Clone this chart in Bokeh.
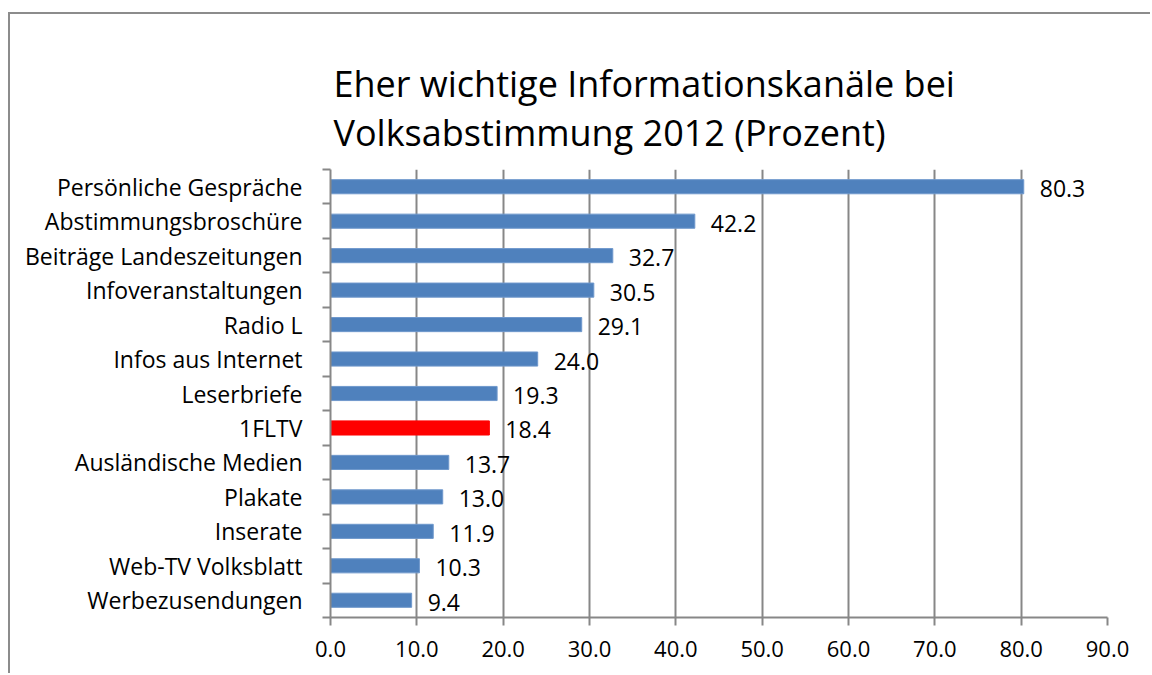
from bokeh.plotting import figure
from bokeh.models import ColumnDataSource, FixedTicker, LabelSet, NumeralTickFormatter, Title
from bokeh.core.properties import value
from bokeh.embed import file_html
from bokeh.resources import INLINE

title_lines = ["Eher wichtige Informationskanäle bei", "Volksabstimmung 2012 (Prozent)"]
categories = ["Persönliche Gespräche", "Abstimmungsbroschüre", "Beiträge Landeszeitungen",
              "Infoveranstaltungen", "Radio L", "Infos aus Internet", "Leserbriefe", "1FLTV",
              "Ausländische Medien", "Plakate", "Inserate", "Web-TV Volksblatt", "Werbezusendungen"]
values = [80.3, 42.2, 32.7, 30.5, 29.1, 24.0, 19.3, 18.4, 13.7, 13.0, 11.9, 10.3, 9.4]
highlight = "1FLTV"
x_ticks = [0, 10, 20, 30, 40, 50, 60, 70, 80, 90]

FONT = "Open Sans"
BLUE = "#4F81BD"
RED = "#FF0000"
GRAY = "#878787"

n = len(categories)
ypos = [n - 1 - i for i in range(n)]
colors = [RED if c == highlight else BLUE for c in categories]
lines = ["#FF0000" if c == highlight else "#6F98CC" for c in categories]
labels = ["%.1f" % v for v in values]

src = ColumnDataSource(dict(y=ypos, v=values, c=colors, lc=lines, lab=labels, cat=categories))

W, H = 1142, 661
FL, FT, FH = 320, 155, 448
p = figure(width=W, height=H, output_backend="svg", toolbar_location=None,
           x_range=(0, 90), y_range=(-0.5, n - 0.5),
           min_border_left=FL, min_border_right=45, min_border_top=FT,
           min_border_bottom=H - FT - FH)
p.outline_line_color = None
p.background_fill_color = "white"
p.border_fill_color = "white"

p.hbar(y="y", right="v", left=0, height=0.41, fill_color="c", line_color="lc", line_width=1, source=src)

ls = LabelSet(x="v", y="y", text="lab", source=src, x_offset=16, y_offset=-2,
              text_baseline="middle", text_align="left",
              text_font=value(FONT), text_font_size=value("23px"), text_color="black")
p.add_layout(ls)

# x axis
p.xaxis.ticker = FixedTicker(ticks=x_ticks)
p.xaxis.formatter = NumeralTickFormatter(format="0.0")
p.xaxis.axis_line_color = GRAY
p.xaxis.axis_line_width = 2
p.xaxis.major_tick_line_color = GRAY
p.xaxis.major_tick_line_width = 2
p.xaxis.major_tick_out = 8
p.xaxis.major_tick_in = 0
p.xaxis.minor_tick_line_color = None
p.xaxis.major_label_text_font = FONT
p.xaxis.major_label_text_font_size = "22px"
p.xaxis.major_label_text_color = "black"
p.xaxis.major_label_standoff = 15

p.xgrid.ticker = FixedTicker(ticks=x_ticks)
p.xgrid.grid_line_color = GRAY
p.xgrid.grid_line_width = 2
p.ygrid.grid_line_color = None

# y axis
p.yaxis.ticker = FixedTicker(ticks=ypos, minor_ticks=[k - 0.5 for k in range(n + 1)])
p.yaxis.major_label_overrides = {int(y): c for y, c in zip(ypos, categories)}
p.yaxis.axis_line_color = GRAY
p.yaxis.axis_line_width = 2
p.yaxis.major_tick_line_color = None
p.yaxis.major_tick_out = 0
p.yaxis.major_tick_in = 0
p.yaxis.minor_tick_line_color = GRAY
p.yaxis.minor_tick_line_width = 2
p.yaxis.minor_tick_out = 8
p.yaxis.minor_tick_in = 0
p.yaxis.major_label_text_font = FONT
p.yaxis.major_label_text_font_size = "23px"
p.yaxis.major_label_text_color = "black"
p.yaxis.major_label_standoff = 20

# two-line title
title = Title(text="\n".join(title_lines), align="left", offset=3, text_font=FONT,
              text_font_size="36px", text_font_style="normal", text_color="black",
              vertical_align="top", standoff=22)
p.above = [title]

# chart-area border (left and top edges visible)
p.styles = {"border-left": "2px solid #8c8c8c", "border-top": "2px solid #8c8c8c",
            "margin-left": "8px", "margin-top": "12px"}

open("out.html", "w").write(file_html(p, INLINE))
